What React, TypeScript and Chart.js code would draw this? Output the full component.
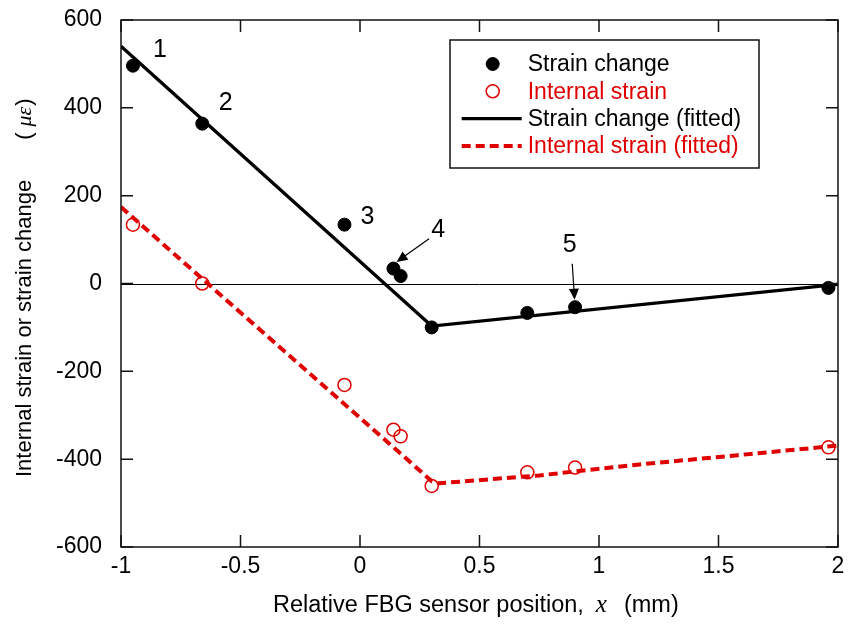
import React, { useEffect, useRef } from 'react';
import { Chart, registerables } from 'chart.js';

Chart.register(...registerables);

// ---------- data ----------
const positionX = [-0.95, -0.66, -0.065, 0.14, 0.17, 0.3, 0.7, 0.9, 1.96];
const strainChange = [496, 364, 134, 34, 17, -100, -67, -54, -10];
const internalStrain = [134, 0, -231, -333, -348, -461, -430, -419, -373];

const fitStrainX = [-1, 0.3, 2];
const fitStrainY = [540, -97, -2];
const fitInternalX = [-1, 0.3, 0.33, 0.75, 1.17, 1.58, 2];
const fitInternalY = [174, -450, -455, -437, -412, -391, -369];

const xTicks = [-1, -0.5, 0, 0.5, 1, 1.5, 2];
const yTicks = [-600, -400, -200, 0, 200, 400, 600];

const seriesLabels = [
  'Strain change',
  'Internal strain',
  'Strain change (fitted)',
  'Internal strain (fitted)',
];

const pointLabels = ['1', '2', '3', '4', '5'];
const pointLabelX = [-0.837, -0.562, 0.031, 0.327, 0.877];
const pointLabelY = [531, 410, 151, 121, 87];

const arrowFromX = [0.289, 0.888];
const arrowFromY = [102, 45];
const arrowToX = [0.153, 0.898];
const arrowToY = [49, -37];

// ---------- styles ----------
const FONT = "'Liberation Sans', Arial, Helvetica, sans-serif";
const SERIF = "'Liberation Serif', 'Times New Roman', serif";
const RED = '#e00000';
const BLACK = '#000000';

function drawArrow(ctx: CanvasRenderingContext2D, x1: number, y1: number, x2: number, y2: number) {
  const ang = Math.atan2(y2 - y1, x2 - x1);
  const len = 11;
  const hw = 5;
  ctx.beginPath();
  ctx.moveTo(x1, y1);
  ctx.lineTo(x2 - Math.cos(ang) * len * 0.8, y2 - Math.sin(ang) * len * 0.8);
  ctx.stroke();
  ctx.beginPath();
  ctx.moveTo(x2, y2);
  ctx.lineTo(x2 - Math.cos(ang) * len - Math.sin(ang) * hw, y2 - Math.sin(ang) * len + Math.cos(ang) * hw);
  ctx.lineTo(x2 - Math.cos(ang) * len + Math.sin(ang) * hw, y2 - Math.sin(ang) * len - Math.cos(ang) * hw);
  ctx.closePath();
  ctx.fill();
}

type Seg = { text: string; font: string; gap?: number };

function drawSegments(ctx: CanvasRenderingContext2D, segs: Seg[], x: number, y: number) {
  let cx = x;
  for (const s of segs) {
    cx += s.gap || 0;
    ctx.font = s.font;
    ctx.fillText(s.text, cx, y);
    cx += ctx.measureText(s.text).width;
  }
}

const customPlugin = {
  id: 'customDecor',
  beforeDatasetsDraw(chart: any) {
    const { ctx, chartArea: a, scales } = chart;
    const py = Math.round(scales.y.getPixelForValue(0)) + 0.5;
    ctx.save();
    ctx.strokeStyle = BLACK;
    ctx.lineWidth = 1;
    ctx.beginPath();
    ctx.moveTo(a.left, py);
    ctx.lineTo(a.right, py);
    ctx.stroke();
    ctx.restore();
  },
  afterDatasetsDraw(chart: any) {
    const { ctx, chartArea: a, scales } = chart;
    const xs = scales.x;
    const ys = scales.y;
    ctx.save();
    // frame
    ctx.strokeStyle = '#111';
    ctx.lineWidth = 1.5;
    ctx.strokeRect(a.left, a.top, a.right - a.left, a.bottom - a.top);
    // inward ticks on all sides
    const tl = 12;
    ctx.beginPath();
    xs.ticks.forEach((t: any) => {
      const px = xs.getPixelForValue(t.value);
      ctx.moveTo(px, a.bottom);
      ctx.lineTo(px, a.bottom - tl);
      ctx.moveTo(px, a.top);
      ctx.lineTo(px, a.top + tl);
    });
    ys.ticks.forEach((t: any) => {
      const py = ys.getPixelForValue(t.value);
      ctx.moveTo(a.left, py);
      ctx.lineTo(a.left + tl, py);
      ctx.moveTo(a.right, py);
      ctx.lineTo(a.right - tl, py);
    });
    ctx.stroke();

    // point number labels
    ctx.fillStyle = BLACK;
    ctx.font = `25px ${FONT}`;
    ctx.textAlign = 'center';
    ctx.textBaseline = 'middle';
    pointLabels.forEach((lab, i) => {
      ctx.fillText(lab, xs.getPixelForValue(pointLabelX[i]), ys.getPixelForValue(pointLabelY[i]));
    });

    // arrows
    ctx.strokeStyle = BLACK;
    ctx.fillStyle = BLACK;
    ctx.lineWidth = 1.2;
    arrowFromX.forEach((_, i) => {
      drawArrow(
        ctx,
        xs.getPixelForValue(arrowFromX[i]),
        ys.getPixelForValue(arrowFromY[i]),
        xs.getPixelForValue(arrowToX[i]),
        ys.getPixelForValue(arrowToY[i])
      );
    });

    // legend
    const lx = a.left + 329;
    const ly = a.top + 20;
    const lw = 309;
    const lh = 128;
    ctx.fillStyle = '#fff';
    ctx.fillRect(lx, ly, lw, lh);
    ctx.strokeStyle = '#111';
    ctx.lineWidth = 1.5;
    ctx.strokeRect(lx, ly, lw, lh);
    ctx.font = `23px ${FONT}`;
    ctx.textAlign = 'left';
    ctx.textBaseline = 'middle';
    chart.data.datasets.forEach((ds: any, i: number) => {
      const cy = ly + 24 + i * 27.3;
      if (ds.showLine) {
        ctx.save();
        ctx.strokeStyle = ds.borderColor;
        ctx.lineWidth = ds.borderWidth;
        ctx.setLineDash(ds.borderDash || []);
        ctx.beginPath();
        ctx.moveTo(lx + 11.7, cy);
        ctx.lineTo(lx + 71.7, cy);
        ctx.stroke();
        ctx.restore();
      } else {
        ctx.beginPath();
        ctx.arc(lx + 42.7, cy, ds.pointRadius, 0, Math.PI * 2);
        ctx.fillStyle = ds.pointBackgroundColor;
        ctx.fill();
        ctx.strokeStyle = ds.pointBorderColor;
        ctx.lineWidth = ds.pointBorderWidth;
        ctx.stroke();
      }
      ctx.fillStyle = ds.borderColor;
      ctx.fillText(ds.label, lx + 77.7, cy + 1);
    });
    ctx.restore();
  },
  afterDraw(chart: any) {
    const { ctx } = chart;
    ctx.save();
    ctx.fillStyle = BLACK;
    ctx.textAlign = 'left';
    // x title
    ctx.textBaseline = 'alphabetic';
    drawSegments(
      ctx,
      [
        { text: 'Relative FBG sensor position,', font: `23.5px ${FONT}` },
        { text: 'x', font: `italic 25px ${SERIF}`, gap: 12 },
        { text: '(mm)', font: `23.5px ${FONT}`, gap: 17 },
      ],
      273,
      612
    );
    // y title
    ctx.translate(25, 477);
    ctx.rotate(-Math.PI / 2);
    ctx.textBaseline = 'middle';
    drawSegments(
      ctx,
      [
        { text: 'Internal strain or strain change', font: `22px ${FONT}` },
        { text: '(', font: `22px ${FONT}`, gap: 40 },
        { text: 'με', font: `italic 22px ${SERIF}`, gap: 6 },
        { text: ')', font: `22px ${FONT}`, gap: 1 },
      ],
      0,
      0
    );
    ctx.restore();
  },
};

export default function App() {
  const ref = useRef<HTMLCanvasElement>(null);
  useEffect(() => {
    document.body.style.margin = '0';
    const datasets: any[] = [
      {
        label: seriesLabels[0],
        data: positionX.map((x, i) => ({ x, y: strainChange[i] })),
        showLine: false,
        pointRadius: 6.5,
        pointBackgroundColor: BLACK,
        pointBorderColor: BLACK,
        pointBorderWidth: 1,
        borderColor: BLACK,
        backgroundColor: BLACK,
        order: 0,
      },
      {
        label: seriesLabels[1],
        data: positionX.map((x, i) => ({ x, y: internalStrain[i] })),
        showLine: false,
        pointRadius: 6.5,
        pointBackgroundColor: 'rgba(0,0,0,0)',
        pointBorderColor: RED,
        pointBorderWidth: 1.5,
        borderColor: RED,
        backgroundColor: 'rgba(0,0,0,0)',
        order: 0,
      },
      {
        label: seriesLabels[2],
        data: fitStrainX.map((x, i) => ({ x, y: fitStrainY[i] })),
        showLine: true,
        pointRadius: 0,
        borderColor: BLACK,
        backgroundColor: BLACK,
        borderWidth: 3.3,
        tension: 0,
        order: 1,
      },
      {
        label: seriesLabels[3],
        data: fitInternalX.map((x, i) => ({ x, y: fitInternalY[i] })),
        showLine: true,
        pointRadius: 0,
        borderColor: RED,
        backgroundColor: RED,
        borderWidth: 4,
        borderDash: [9, 5],
        tension: 0,
        order: 1,
      },
    ];
    const tickFont = { family: FONT, size: 23 };
    const chart = new Chart(ref.current as HTMLCanvasElement, {
      type: 'scatter',
      data: { datasets },
      options: {
        responsive: false,
        animation: false,
        devicePixelRatio: 1,
        layout: { padding: { top: 20, right: 10, left: 0, bottom: 0 } },
        plugins: { legend: { display: false }, tooltip: { enabled: false } },
        scales: {
          x: {
            type: 'linear',
            min: -1,
            max: 2,
            grid: { display: false, drawTicks: false },
            border: { display: false },
            afterBuildTicks: (s: any) => {
              s.ticks = xTicks.map((v) => ({ value: v }));
            },
            afterFit: (s: any) => {
              s.height = 77;
              s.paddingLeft = 0;
              s.paddingRight = 0;
            },
            ticks: {
              font: tickFont,
              color: BLACK,
              padding: 6,
              autoSkip: false,
              maxRotation: 0,
              callback: (v: any) => String(v),
            },
          },
          y: {
            type: 'linear',
            min: -600,
            max: 600,
            grid: { display: false, drawTicks: false },
            border: { display: false },
            afterBuildTicks: (s: any) => {
              s.ticks = yTicks.map((v) => ({ value: v }));
            },
            afterFit: (s: any) => {
              s.width = 121;
              s.paddingTop = 0;
              s.paddingBottom = 0;
            },
            ticks: {
              font: tickFont,
              color: BLACK,
              padding: 19,
              autoSkip: false,
              callback: (v: any) => String(v),
            },
          },
        },
      } as any,
      plugins: [customPlugin],
    });
    return () => chart.destroy();
  }, []);
  return (
    <div style={{ width: 848, height: 624 }}>
      <canvas ref={ref} width={848} height={624} style={{ display: 'block' }} />
    </div>
  );
}
